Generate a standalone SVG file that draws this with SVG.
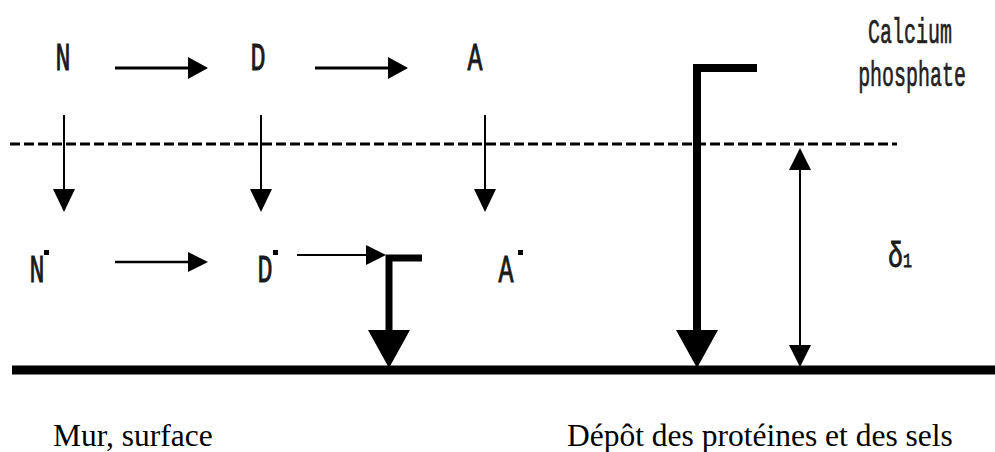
<svg xmlns="http://www.w3.org/2000/svg" width="995" height="452" viewBox="0 0 995 452">
<style>
.lbl{font-family:"Liberation Mono","DejaVu Sans Mono",monospace;font-size:25px;fill:#1a1a1a;stroke:#1a1a1a;stroke-width:0.6px}
.cp{font-family:"Liberation Mono","DejaVu Sans Mono",monospace;font-size:21px;fill:#222;stroke:#222;stroke-width:0.4px}
.cap{font-family:"Liberation Serif","Times New Roman",serif;font-size:31.5px;fill:#000}
.ln{stroke:#000;fill:none}
.hd{fill:#000;stroke:none}
</style>
<rect width="995" height="452" fill="#fff"/>
<g id="node-N"><text class="lbl" text-anchor="middle" transform="translate(63,70) scale(1,1.55)">N</text></g>
<g id="node-D"><text class="lbl" text-anchor="middle" transform="translate(258,70) scale(1,1.55)">D</text></g>
<g id="node-A"><text class="lbl" text-anchor="middle" transform="translate(475,70) scale(1,1.55)">A</text></g>
<g id="node-Nstar"><text class="lbl" text-anchor="middle" transform="translate(37,282) scale(1,1.55)">N</text><rect x="44" y="250" width="5" height="5"/></g>
<g id="node-Dstar"><text class="lbl" text-anchor="middle" transform="translate(265,282) scale(1,1.55)">D</text><rect x="273" y="250" width="5" height="5"/></g>
<g id="node-Astar"><text class="lbl" text-anchor="middle" transform="translate(506,282) scale(1,1.55)">A</text><rect x="518" y="250" width="5" height="5"/></g>
<g id="node-calcium"><text class="cp" text-anchor="middle" transform="translate(910,43) scale(0.95,1.7)">Calcium</text><text class="cp" text-anchor="middle" transform="translate(912,86) scale(0.95,1.7)">phosphate</text></g>
<g id="node-delta"><text class="lbl" text-anchor="middle" transform="translate(900,267) scale(1,1.4)">δ<tspan style="font-size:15px">1</tspan></text></g>
<g id="node-mur"><text class="cap" x="53" y="446">Mur, surface</text></g>
<g id="node-depot"><text class="cap" x="567" y="446">Dépôt des protéines et des sels</text></g>
<g id="connectors">
<line class="ln" x1="10" y1="144" x2="897" y2="144" stroke-width="3" stroke-dasharray="10 4"/>
<line class="ln" x1="12" y1="370" x2="995" y2="370" stroke-width="9"/>
<line class="ln" x1="115" y1="68" x2="192" y2="68" stroke-width="3"/><polygon class="hd" points="188,57 208,68 188,79"/>
<line class="ln" x1="315" y1="68" x2="392" y2="68" stroke-width="3"/><polygon class="hd" points="388,57 408,68 388,79"/>
<line class="ln" x1="64" y1="115" x2="64" y2="192" stroke-width="2"/><polygon class="hd" points="53,189 75,189 64,212"/>
<line class="ln" x1="261" y1="115" x2="261" y2="192" stroke-width="2"/><polygon class="hd" points="250,189 272,189 261,212"/>
<line class="ln" x1="485" y1="115" x2="485" y2="192" stroke-width="2"/><polygon class="hd" points="474,189 496,189 485,212"/>
<line class="ln" x1="115" y1="262" x2="192" y2="262" stroke-width="2.5"/><polygon class="hd" points="188,252 208,262 188,272"/>
<line class="ln" x1="297" y1="255" x2="370" y2="255" stroke-width="2"/><polygon class="hd" points="366,245 386,255 366,265"/>
<polyline class="ln" points="422,258 389,258 389,335" stroke-width="7"/><polygon class="hd" points="368,330 410,330 389,368"/>
<polyline class="ln" points="757,68 697,68 697,335" stroke-width="8"/><polygon class="hd" points="676,330 718,330 697,368"/>
<line class="ln" x1="800" y1="165" x2="800" y2="350" stroke-width="2"/><polygon class="hd" points="800,148 811,170 789,170"/><polygon class="hd" points="789,345 811,345 800,367"/>
</g>
</svg>
